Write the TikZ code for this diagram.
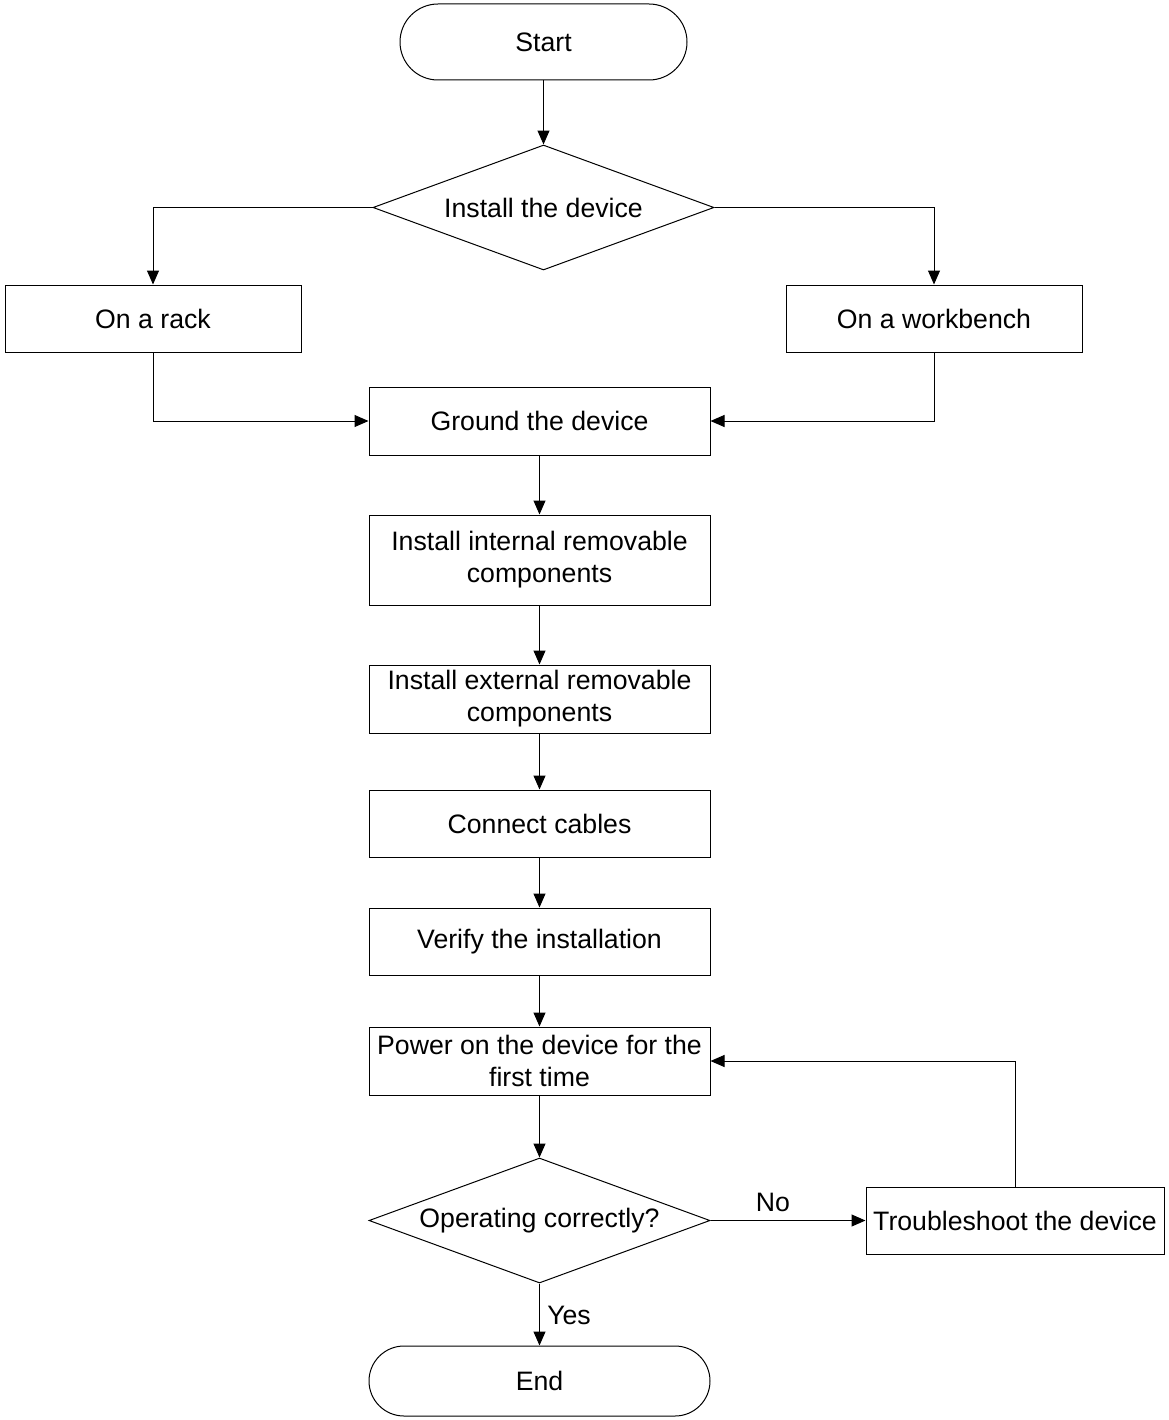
\documentclass[tikz,border=0pt]{standalone}
\usepackage{fontspec}
\setmainfont{Liberation Sans}
\usetikzlibrary{shapes.geometric,arrows.meta}
\begin{document}
\begin{tikzpicture}[x=0.75pt,y=-0.75pt,
  every node/.style={font=\fontsize{20}{24}\selectfont, align=center, inner sep=0pt},
  box/.style={draw, line width=0.75pt, rectangle, minimum width=255.75pt, minimum height=51pt},
  sidebox/.style={draw, line width=0.75pt, rectangle, minimum width=222pt, minimum height=50.25pt},
  term/.style={draw, line width=0.75pt, rectangle},
  dec/.style={draw, line width=0.75pt, diamond, shape aspect=2.73, minimum width=255.75pt, minimum height=93.75pt},
  arr/.style={draw, line width=0.75pt, -{Triangle[length=10.5pt,width=9pt]}},
  lbl/.style={}]
\useasboundingbox (0,0) rectangle (1168,1420);
\node[term, minimum width=215.25pt, minimum height=57pt, rounded corners=28.5pt] (start) at (543.5,42) {Start};
\node[dec] (d1) at (543.5,207.5) {Install the device};
\node[sidebox] (rack) at (153,318.5) {On a rack};
\node[sidebox] (bench) at (934,318.5) {On a workbench};
\node[box] (ground) at (539.5,421) {Ground the device};
\node[box, minimum height=67.5pt] (internal) at (539.5,560) {Install internal removable\\components};
\node[box] (external) at (539.5,699) {Install external removable\\components};
\node[box, minimum height=50.25pt] (cables) at (539.5,823.5) {Connect cables};
\node[box, minimum height=50.25pt] (verify) at (539.5,941.5) {Verify the installation};
\node[box] (power) at (539.5,1061) {Power on the device for the\\first time};
\node[dec] (d2) at (539.5,1220.5) {Operating correctly?};
\node[draw, line width=0.75pt, rectangle, minimum width=223.5pt, minimum height=50.25pt] (trouble) at (1015,1220.5) {Troubleshoot the device};
\node[term, minimum width=255.75pt, minimum height=52.5pt, rounded corners=26.25pt] (end) at (539.5,1381) {End};
\node[lbl] (no) at (773,1202) {No};
\node[lbl] (yes) at (569,1315) {Yes};
\draw[arr] (start.south) -- (d1.north);
\draw[arr] (d1.west) -| (rack.north);
\draw[arr] (d1.east) -| (bench.north);
\draw[arr] (rack.south) |- (ground.west);
\draw[arr] (bench.south) |- (ground.east);
\draw[arr] (ground) -- (internal);
\draw[arr] (internal) -- (external);
\draw[arr] (external) -- (cables);
\draw[arr] (cables) -- (verify);
\draw[arr] (verify) -- (power);
\draw[arr] (power) -- (d2.north);
\draw[arr] (d2.east) -- (trouble.west);
\draw[arr] (trouble.north) |- (power.east);
\draw[arr] (d2.south) -- (end.north);
\end{tikzpicture}
\end{document}
